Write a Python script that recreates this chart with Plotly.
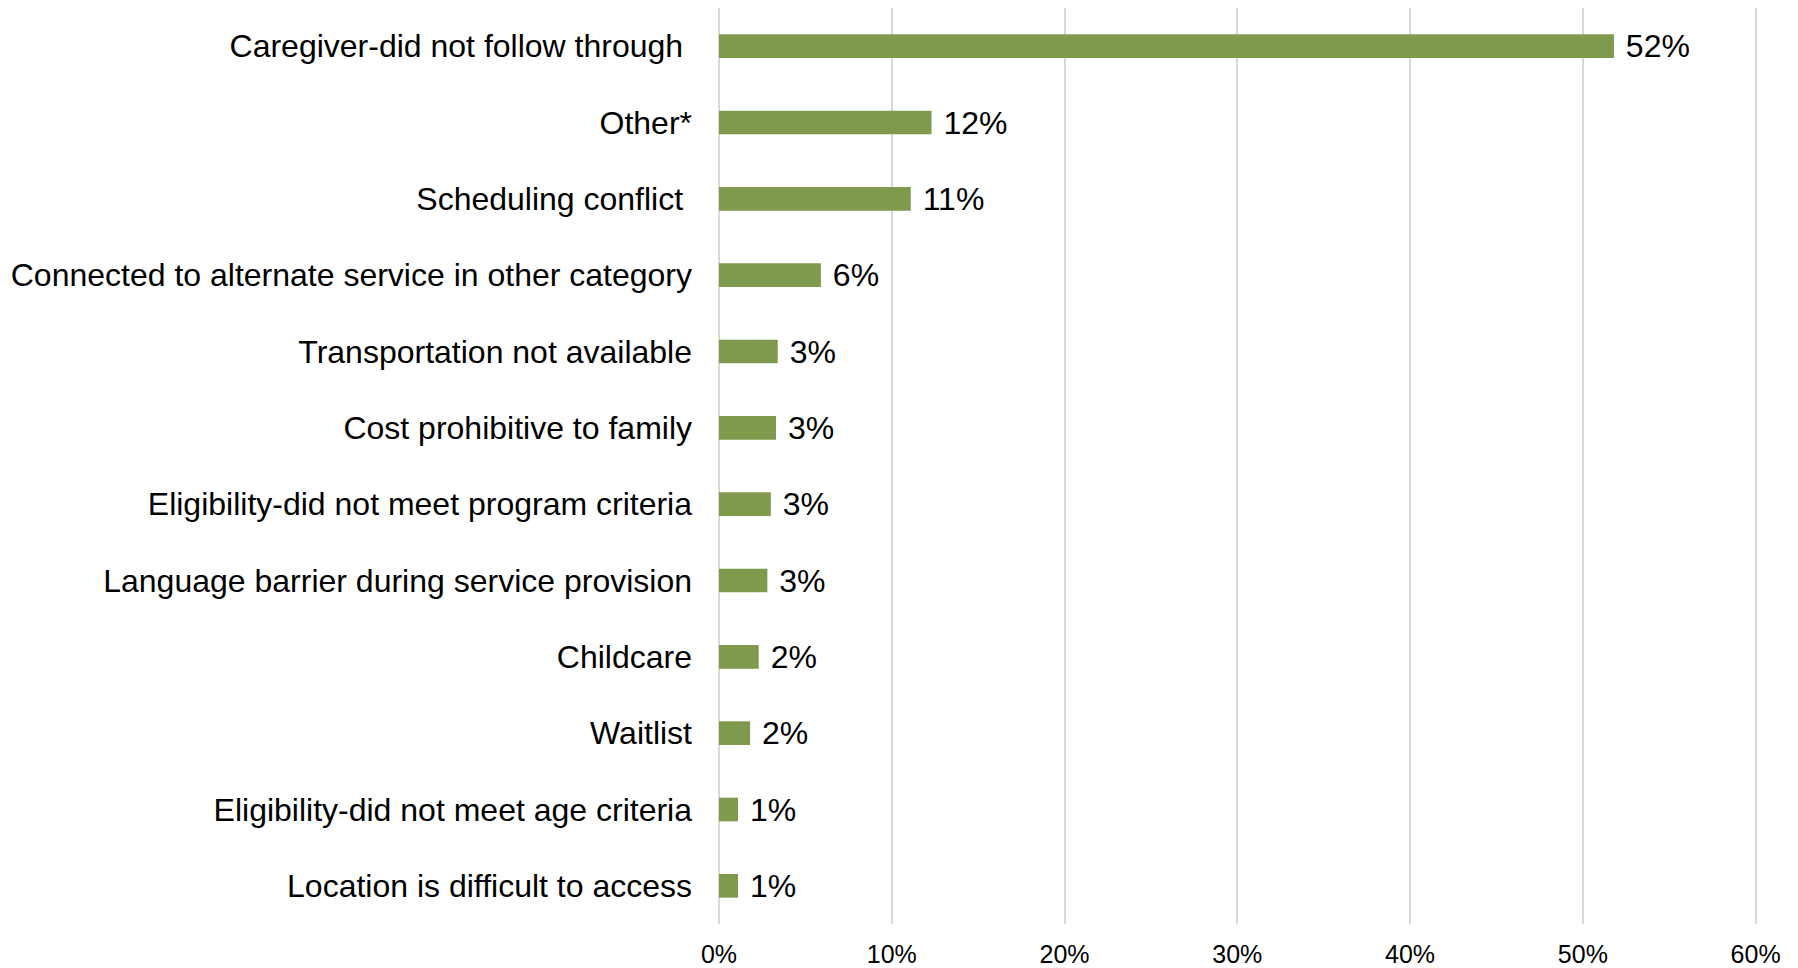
import plotly.graph_objects as go

categories = [
    "Caregiver-did not follow through\u00a0",
    "Other*",
    "Scheduling conflict\u00a0",
    "Connected to alternate service in other category",
    "Transportation not available",
    "Cost prohibitive to family",
    "Eligibility-did not meet program criteria",
    "Language barrier during service provision",
    "Childcare",
    "Waitlist",
    "Eligibility-did not meet age criteria",
    "Location is difficult to access",
]
values = [0.518, 0.123, 0.111, 0.059, 0.034, 0.033, 0.030, 0.028, 0.023, 0.018, 0.011, 0.011]
tick_vals = [0, 0.1, 0.2, 0.3, 0.4, 0.5, 0.6]
tick_text = ["0%", "10%", "20%", "30%", "40%", "50%", "60%"]

FONT = "Liberation Sans, Arial, sans-serif"

fig = go.Figure(
    go.Bar(
        x=values,
        y=categories,
        orientation="h",
        marker=dict(color="#7F9A4C", line=dict(width=0)),
        width=0.31,
        texttemplate="\u00a0%{x:.0%}",
        textposition="outside",
        constraintext="none",
        textfont=dict(family=FONT, size=32, color="#000000"),
        cliponaxis=False,
        hoverinfo="skip",
    )
)

fig.update_layout(
    width=1798,
    height=968,
    margin=dict(l=719, r=41, t=8, b=44),
    paper_bgcolor="white",
    plot_bgcolor="white",
    showlegend=False,
    font=dict(family=FONT, color="#000000"),
)

fig.update_xaxes(
    range=[0, 0.6008],
    tickvals=tick_vals,
    ticktext=tick_text,
    showgrid=True,
    gridcolor="#D9D9D9",
    gridwidth=2,
    zeroline=True,
    zerolinecolor="#D9D9D9",
    zerolinewidth=2,
    showline=False,
    ticks="",
    ticklabelstandoff=13,
    automargin=False,
    tickfont=dict(family=FONT, size=25, color="#000000"),
)

fig.update_yaxes(
    categoryorder="array",
    categoryarray=categories,
    autorange="reversed",
    showgrid=False,
    zeroline=False,
    showline=False,
    ticks="",
    ticklabelstandoff=26,
    automargin=False,
    tickfont=dict(family=FONT, size=32, color="#000000"),
)

fig.write_html(
    "out.html",
    config={"displayModeBar": False},
    post_script="document.body.style.margin='0';document.body.style.overflow='hidden';",
)
